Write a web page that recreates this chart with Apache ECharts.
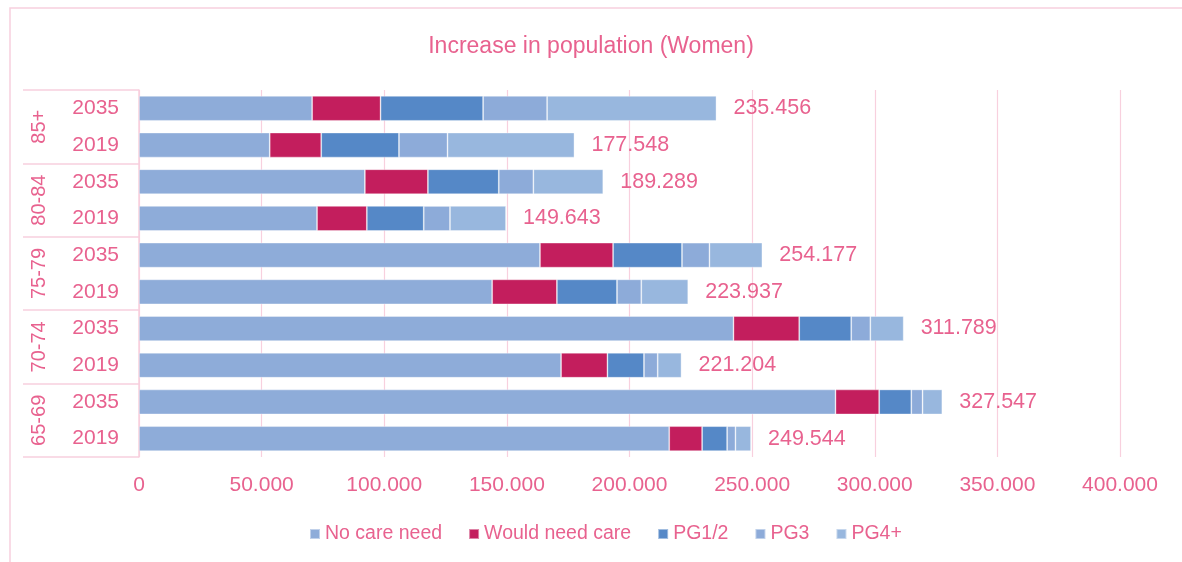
<!DOCTYPE html>
<html>
<head>
<meta charset="utf-8">
<title>Increase in population (Women)</title>
<script src="https://cdn.jsdelivr.net/npm/echarts@6/dist/echarts.min.js"></script>
<style>
  html, body { margin: 0; padding: 0; background: #fff; }
  #chart { width: 1182px; height: 562px; }
</style>
</head>
<body>
<div id="chart"></div>
<script>
// rows run bottom -> top (65-69 2019 first)
var years = ['2019', '2035', '2019', '2035', '2019', '2035', '2019', '2035', '2019', '2035'];
var ageGroups = ['65-69', '70-74', '75-79', '80-84', '85+'];

var noCareNeed     = [216200, 284000, 172100, 242400, 144000, 163500, 72600, 92100, 53300, 70600];
var wouldNeedCare  = [13400, 17800, 18900, 26800, 26400, 29800, 20300, 25700, 21000, 27900];
var pg12           = [10200, 13100, 14900, 21200, 24500, 28100, 23200, 28900, 31700, 41800];
var pg3            = [3400, 4600, 5600, 7800, 9900, 11200, 10700, 14100, 19800, 26100];
var pg4plus        = [6344, 8047, 9704, 13589, 19137, 21577, 22843, 28489, 51748, 69056];
var totals         = [249544, 327547, 221204, 311789, 223937, 254177, 149643, 189289, 177548, 235456];

var pink = '#e8628f';
var lineCol = '#f8d0de';
var font = 'Liberation Sans';

// 235456 -> "235.456"
function dotted(v) {
    return String(v).replace(/\B(?=(\d{3})+(?!\d))/g, '.');
}

var chart = echarts.init(document.getElementById('chart'));

var names = ['No care need', 'Would need care', 'PG1/2', 'PG3', 'PG4+'];
var colors = ['#8eacd9', '#c31e5d', '#5588c7', '#8dabd9', '#98b7de'];
var values = [noCareNeed, wouldNeedCare, pg12, pg3, pg4plus];

var series = [];
for (var i = 0; i < names.length; i++) {
    var s = {
        name: names[i],
        type: 'bar',
        stack: 'total',
        barCategoryGap: '32%',
        data: values[i],
        itemStyle: {
            color: colors[i],
            borderColor: 'rgba(255,255,255,0.45)',
            borderWidth: 0.8
        }
    };
    if (i == names.length - 1) {
        s.label = {
            show: true,
            position: 'right',
            distance: 17,
            color: pink,
            fontFamily: font,
            fontSize: 21.5,
            formatter: function (p) {
                return dotted(totals[p.dataIndex]);
            }
        };
    }
    series.push(s);
}

var option = {
    animation: false,
    backgroundColor: '#fff',
    textStyle: { fontFamily: font },
    title: {
        text: 'Increase in population (Women)',
        left: 'center',
        top: 30,
        textStyle: { color: pink, fontSize: 23, fontWeight: 'normal', fontFamily: font }
    },
    graphic: [{
        type: 'rect',
        shape: { x: 10, y: 8, width: 1300, height: 700 },
        style: { fill: 'none', stroke: lineCol, lineWidth: 1.5 },
        silent: true
    }],
    legend: {
        bottom: 13,
        left: 304,
        icon: 'rect',
        itemWidth: 10,
        itemHeight: 10,
        itemGap: 26,
        textStyle: { color: pink, fontSize: 19.5, fontFamily: font },
        data: names
    },
    grid: { left: 139, right: 62, top: 90, bottom: 105 },
    xAxis: {
        type: 'value',
        min: 0,
        max: 400000,
        interval: 50000,
        axisLine: { show: false },
        axisTick: { show: false },
        axisLabel: {
            color: pink,
            fontSize: 21,
            margin: 18,
            formatter: function (v) { return dotted(v); }
        },
        splitLine: { lineStyle: { color: lineCol, width: 1.2 } }
    },
    yAxis: [{
        type: 'category',
        data: years,
        position: 'left',
        axisLine: { lineStyle: { color: lineCol, width: 1.5 } },
        axisTick: { show: false },
        axisLabel: { color: pink, fontSize: 21, margin: 20 }
    }, {
        type: 'category',
        data: ageGroups,
        position: 'left',
        axisLine: { show: false },
        axisTick: { show: true, length: 116, interval: 0, lineStyle: { color: lineCol, width: 1.5 } },
        axisLabel: { color: pink, fontSize: 20, rotate: 90, margin: 90 }
    }],
    series: series
};

chart.setOption(option);
window.addEventListener('resize', function () {
    chart.resize();
});
</script>
</body>
</html>
